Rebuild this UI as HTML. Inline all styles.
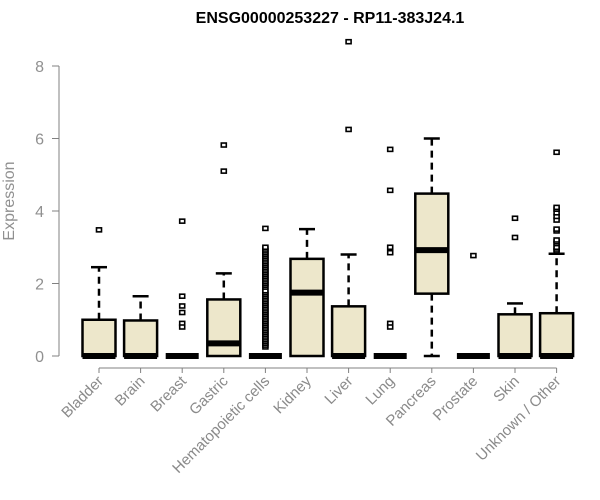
<!DOCTYPE html>
<html><head><meta charset="utf-8"><style>
body{margin:0;background:#fff;}
svg{display:block;font-family:"Liberation Sans",Arial,sans-serif;}
</style></head><body>
<svg id="chart" width="600" height="500" viewBox="0 0 600 500">
<text x="330" y="23" text-anchor="middle" font-weight="bold" font-size="16" fill="#000">ENSG00000253227 - RP11-383J24.1</text>
<text transform="translate(14,201) rotate(-90)" text-anchor="middle" font-size="16" fill="#909090">Expression</text>
<g id="yaxis"></g>
<g id="xaxis"></g>
<g id="boxes"></g>
</svg>
<script>
const categories=["Bladder","Brain","Breast","Gastric","Hematopoietic cells","Kidney","Liver","Lung","Pancreas","Prostate","Skin","Unknown / Other"];
const whiskLow=[0,0,0,0,0,0,0,0,0,0,0,0];
const q1=[0,0,0,0,0,0,0,0,1.72,0,0,0];
const medians=[0,0,0,0.35,0,1.75,0,0,2.92,0,0,0];
const q3=[1.0,0.98,0,1.56,0,2.68,1.37,0,4.48,0,1.15,1.18];
const whiskHigh=[2.45,1.65,0,2.28,0,3.5,2.8,0,6.0,0,1.45,2.82];
const outliers=[[3.48],[],[3.72,1.65,1.38,1.2,0.9,0.8],[5.1,5.82],
[0.25,0.3,0.35,0.4,0.45,0.5,0.55,0.6,0.65,0.7,0.75,0.8,0.85,0.9,0.95,1.0,1.05,1.1,1.15,1.2,1.25,1.3,1.35,1.4,1.45,1.5,1.55,1.6,1.65,1.7,1.75,1.8,1.9,1.95,2.0,2.05,2.1,2.15,2.2,2.25,2.3,2.35,2.4,2.45,2.5,2.55,2.6,2.65,2.7,2.75,2.8,2.85,2.9,2.95,3.0,3.52],
[],[6.25,8.67],[5.7,4.57,3.0,2.85,0.9,0.8],[],[2.77],[3.27,3.8],
[2.9,2.95,3.0,3.1,3.15,3.2,3.45,3.5,3.75,3.85,3.95,4.05,4.1,5.62]];
const yTicks=[0,2,4,6,8];
const NS="http://www.w3.org/2000/svg";
function y(v){return 356-v*36.25;}
function x(i){return 99+i*41.6;}
function mk(tag,attrs,parent){const e=document.createElementNS(NS,tag);for(const k in attrs)e.setAttribute(k,attrs[k]);parent.appendChild(e);return e;}
const ya=document.getElementById('yaxis'),xa=document.getElementById('xaxis'),bx=document.getElementById('boxes');
mk('line',{x1:59,x2:59,y1:y(0),y2:y(8),stroke:'#808080'},ya);
yTicks.forEach(t=>{
 const l=mk('line',{x1:52,x2:59,y1:y(t),y2:y(t),stroke:'#808080'},ya);
 
 
 const tx=mk('text',{x:44,y:y(t)+6,'text-anchor':'end','font-size':16,fill:'#909090'},ya);
 tx.textContent=t;
 
 
});
mk('line',{x1:x(0),x2:x(categories.length-1),y1:368,y2:368,stroke:'#808080'},xa);
categories.forEach((c,i)=>{
 const l=mk('line',{x1:x(i),x2:x(i),y1:368,y2:373,stroke:'#808080'},xa);
 
 
 const tx=mk('text',{transform:`translate(${x(i)+5},382) rotate(-45)`,'text-anchor':'end','font-size':15,fill:'#8a8a8a'},xa);
 tx.textContent=c;
 
 
});
categories.forEach((c,i)=>{
 const g=mk('g',{},bx);
 
 
 const cx=x(i),hw=16.5;
 if(whiskHigh[i]>q3[i]){
  mk('line',{x1:cx,x2:cx,y1:y(q3[i]),y2:y(whiskHigh[i]),stroke:'#000','stroke-width':2.5,'stroke-dasharray':'7,5'},g);
  mk('line',{x1:cx-8,x2:cx+8,y1:y(whiskHigh[i]),y2:y(whiskHigh[i]),stroke:'#000','stroke-width':2.5},g);
 }
 if(whiskLow[i]<q1[i]){
  mk('line',{x1:cx,x2:cx,y1:y(q1[i]),y2:y(whiskLow[i]),stroke:'#000','stroke-width':2.5,'stroke-dasharray':'7,5'},g);
  mk('line',{x1:cx-8,x2:cx+8,y1:y(whiskLow[i]),y2:y(whiskLow[i]),stroke:'#000','stroke-width':2.5},g);
 }
 mk('rect',{x:cx-hw,y:y(q3[i]),width:hw*2,height:Math.max(0,y(q1[i])-y(q3[i])),fill:'#ede7cb',stroke:'#000','stroke-width':2.5},g);
 mk('line',{x1:cx-hw,x2:cx+hw,y1:y(medians[i]),y2:y(medians[i]),stroke:'#000','stroke-width':6},g);
 outliers[i].forEach(v=>{
  const p=mk('rect',{x:cx-2.5,y:y(v)-2,width:5,height:4,fill:'#fff',stroke:'#000','stroke-width':1.6},g);
  
  
 });
});
</script>
</body></html>
